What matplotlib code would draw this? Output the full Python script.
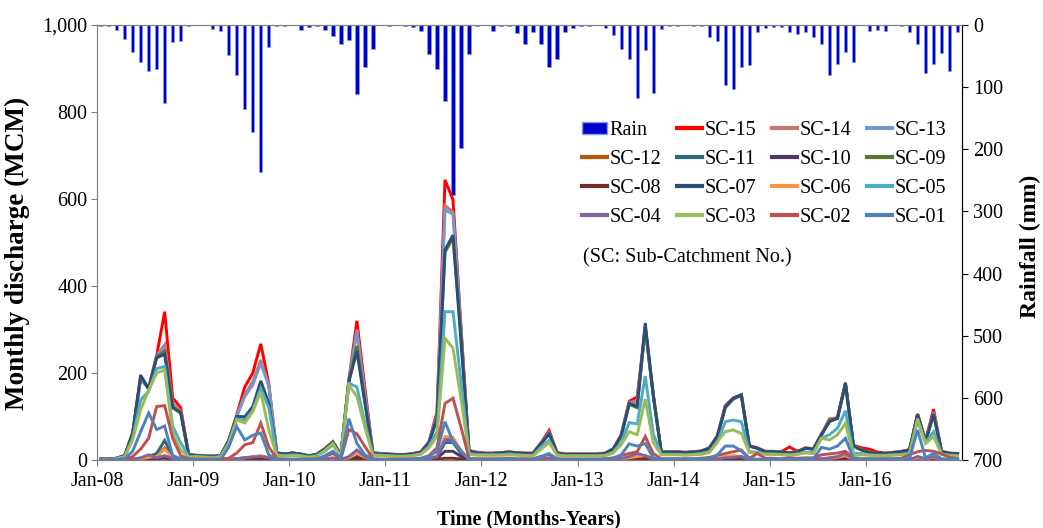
import numpy as np
import matplotlib
matplotlib.use("Agg")
import matplotlib.pyplot as plt
from matplotlib.ticker import FuncFormatter
from matplotlib.patches import Patch
from matplotlib.lines import Line2D

plt.rcParams['font.family'] = ['Liberation Serif', 'DejaVu Serif']

# monthly series, Jan-2008 .. Dec-2016 (one row per year)
rain = [2, 2, 8, 22, 43, 60, 74, 70, 126, 27, 25, 2,
        0, 0, 6, 10, 48, 80, 135, 172, 236, 36, 2, 2,
        0, 8, 4, 2, 8, 18, 31, 24, 111, 67, 38, 0,
        1, 0, 2, 4, 10, 46, 70, 122, 274, 198, 47, 1,
        0, 10, 2, 2, 13, 31, 11, 30, 67, 55, 11, 5,
        1, 1, 0, 5, 16, 39, 55, 117, 41, 109, 7, 1,
        1, 0, 1, 2, 20, 26, 97, 103, 67, 64, 11, 5,
        4, 4, 11, 14, 11, 20, 30, 81, 62, 43, 59, 0,
        10, 8, 10, 0, 1, 11, 30, 78, 63, 45, 74, 11]

sc15 = [2, 2, 4, 10, 60, 190, 165, 240, 341, 143, 120, 12,
        11, 10, 9, 10, 45, 104, 168, 200, 267, 175, 16, 14,
        16, 14, 10, 13, 26, 42, 13, 185, 320, 165, 17, 15,
        14, 13, 13, 15, 19, 42, 110, 644, 598, 305, 22, 18,
        16, 16, 17, 19, 17, 16, 16, 40, 68, 17, 14, 14,
        14, 14, 14, 16, 26, 58, 135, 145, 305, 150, 19, 19,
        19, 18, 19, 21, 28, 56, 125, 143, 150, 33, 28, 20,
        20, 19, 30, 20, 28, 26, 60, 90, 98, 175, 34, 28,
        25, 18, 16, 18, 20, 24, 105, 45, 117, 20, 16, 15]
sc14 = [2, 2, 4, 10, 60, 188, 165, 240, 265, 130, 112, 12,
        10, 10, 9, 10, 45, 102, 150, 180, 230, 172, 16, 14,
        16, 13, 10, 13, 25, 41, 12, 183, 300, 150, 16, 15,
        13, 12, 12, 14, 18, 41, 102, 585, 570, 297, 21, 17,
        15, 15, 16, 18, 16, 15, 15, 39, 64, 16, 13, 13,
        13, 13, 13, 15, 25, 57, 133, 135, 305, 150, 18, 18,
        18, 17, 18, 20, 27, 55, 124, 142, 150, 32, 27, 19,
        19, 18, 17, 19, 27, 26, 59, 95, 97, 176, 33, 24,
        18, 15, 15, 17, 19, 23, 105, 44, 110, 19, 15, 14]
sc13 = [2, 2, 4, 10, 58, 185, 165, 240, 257, 125, 110, 12,
        10, 10, 9, 10, 45, 100, 146, 172, 222, 170, 16, 14,
        16, 13, 10, 13, 25, 41, 12, 182, 295, 150, 16, 15,
        13, 12, 12, 14, 18, 41, 100, 575, 565, 295, 21, 17,
        15, 15, 16, 18, 16, 15, 15, 38, 62, 16, 13, 13,
        13, 13, 13, 15, 25, 56, 132, 128, 300, 150, 18, 18,
        18, 17, 18, 20, 27, 54, 123, 142, 150, 32, 27, 19,
        19, 18, 16, 19, 27, 25, 58, 90, 96, 175, 32, 23,
        17, 15, 15, 17, 19, 23, 104, 44, 108, 19, 15, 14]
sc12 = [0, 0, 0, 0, 1, 2, 5, 8, 28, 5, 1, 0,
        0, 0, 0, 0, 1, 2, 4, 6, 8, 5, 1, 0,
        0, 0, 0, 0, 1, 2, 1, 4, 12, 5, 1, 0,
        0, 0, 0, 0, 1, 2, 6, 48, 46, 18, 1, 0,
        0, 0, 0, 0, 0, 0, 0, 1, 3, 1, 0, 0,
        0, 0, 0, 0, 1, 2, 4, 6, 8, 2, 0, 0,
        0, 0, 0, 0, 1, 2, 6, 8, 7, 1, 1, 0,
        0, 0, 0, 0, 1, 1, 2, 3, 5, 8, 1, 0,
        0, 0, 0, 0, 0, 1, 4, 2, 5, 1, 0, 0]
sc11 = [0, 0, 0, 0, 1, 3, 8, 15, 45, 8, 2, 0,
        0, 0, 0, 0, 1, 3, 5, 6, 8, 5, 1, 0,
        0, 0, 0, 0, 1, 2, 1, 6, 12, 5, 1, 0,
        0, 0, 0, 0, 1, 2, 6, 40, 40, 15, 1, 0,
        0, 0, 0, 0, 0, 0, 0, 2, 3, 1, 0, 0,
        0, 0, 0, 0, 1, 2, 5, 6, 8, 3, 0, 0,
        0, 0, 0, 0, 1, 2, 6, 7, 7, 1, 1, 0,
        0, 0, 0, 0, 1, 1, 3, 4, 5, 8, 1, 0,
        0, 0, 0, 0, 0, 1, 4, 2, 5, 1, 0, 0]
sc10 = [0, 0, 0, 0, 1, 2, 4, 5, 8, 2, 1, 0,
        0, 0, 0, 0, 1, 2, 3, 4, 5, 3, 1, 0,
        0, 0, 0, 0, 1, 1, 0, 3, 8, 3, 0, 0,
        0, 0, 0, 0, 0, 1, 4, 20, 20, 8, 1, 0,
        0, 0, 0, 0, 0, 0, 0, 1, 2, 0, 0, 0,
        0, 0, 0, 0, 0, 1, 3, 5, 5, 2, 0, 0,
        0, 0, 0, 0, 0, 1, 3, 4, 4, 1, 0, 0,
        0, 0, 0, 0, 0, 1, 2, 3, 4, 6, 1, 0,
        0, 0, 0, 0, 0, 1, 3, 1, 3, 1, 0, 0]
sc09 = [2, 2, 4, 10, 62, 193, 163, 238, 250, 122, 110, 12,
        10, 9, 8, 10, 45, 100, 99, 120, 172, 128, 16, 14,
        16, 13, 9, 13, 26, 42, 12, 182, 262, 135, 15, 14,
        13, 12, 12, 14, 18, 40, 95, 478, 510, 290, 20, 16,
        15, 15, 16, 18, 16, 15, 15, 38, 60, 16, 13, 13,
        13, 13, 13, 15, 25, 55, 128, 120, 305, 148, 18, 18,
        18, 17, 18, 20, 27, 53, 120, 140, 148, 32, 27, 19,
        19, 18, 16, 19, 27, 25, 57, 92, 95, 175, 32, 23,
        17, 15, 15, 17, 19, 23, 104, 42, 104, 19, 15, 14]
sc08 = [0, 0, 0, 0, 0, 1, 2, 3, 4, 1, 0, 0,
        0, 0, 0, 0, 0, 1, 2, 2, 3, 1, 0, 0,
        0, 0, 0, 0, 0, 1, 0, 2, 3, 1, 0, 0,
        0, 0, 0, 0, 0, 1, 2, 4, 4, 2, 0, 0,
        0, 0, 0, 0, 0, 0, 0, 0, 1, 0, 0, 0,
        0, 0, 0, 0, 0, 1, 2, 2, 3, 1, 0, 0,
        0, 0, 0, 0, 0, 1, 2, 3, 3, 0, 0, 0,
        0, 0, 0, 0, 0, 0, 1, 2, 2, 3, 0, 0,
        0, 0, 0, 0, 0, 0, 2, 1, 3, 0, 0, 0]
sc07 = [2, 2, 4, 10, 62, 195, 163, 235, 243, 120, 108, 12,
        10, 9, 8, 10, 45, 100, 99, 123, 182, 130, 16, 14,
        16, 13, 9, 13, 25, 40, 12, 180, 250, 130, 15, 14,
        13, 12, 12, 14, 18, 40, 95, 483, 517, 270, 20, 16,
        15, 15, 16, 18, 16, 15, 15, 38, 60, 16, 13, 13,
        13, 13, 13, 15, 25, 55, 130, 123, 315, 150, 18, 18,
        18, 17, 18, 20, 27, 54, 123, 142, 150, 32, 27, 19,
        19, 18, 16, 19, 27, 25, 58, 88, 96, 178, 32, 23,
        17, 15, 15, 17, 19, 23, 106, 42, 106, 19, 15, 14]
sc06 = [0, 0, 0, 0, 1, 3, 6, 8, 25, 4, 1, 0,
        0, 0, 0, 0, 1, 3, 5, 8, 10, 6, 1, 0,
        0, 0, 0, 0, 2, 3, 1, 5, 15, 6, 1, 0,
        0, 0, 0, 0, 1, 3, 8, 54, 52, 22, 1, 0,
        0, 0, 0, 0, 0, 0, 0, 2, 4, 1, 0, 0,
        0, 0, 0, 0, 1, 2, 5, 8, 10, 3, 0, 0,
        0, 0, 0, 0, 1, 2, 8, 10, 8, 1, 1, 0,
        0, 0, 0, 0, 1, 1, 3, 4, 6, 10, 1, 0,
        0, 0, 0, 0, 0, 1, 5, 3, 6, 1, 0, 0]
sc05 = [1, 1, 3, 8, 50, 138, 158, 210, 215, 77, 40, 8,
        8, 7, 6, 8, 40, 95, 90, 115, 165, 120, 12, 10,
        12, 10, 7, 10, 20, 35, 9, 176, 168, 85, 12, 11,
        10, 9, 9, 11, 14, 32, 65, 341, 341, 180, 15, 12,
        12, 12, 12, 14, 12, 11, 11, 30, 45, 12, 10, 10,
        10, 10, 10, 11, 18, 40, 86, 83, 193, 60, 13, 13,
        13, 12, 13, 15, 19, 40, 88, 92, 88, 19, 18, 14,
        14, 13, 12, 14, 18, 17, 50, 58, 73, 113, 15, 15,
        12, 11, 11, 12, 13, 16, 90, 40, 65, 14, 11, 10]
sc04 = [0, 0, 0, 0, 2, 5, 12, 5, 10, 3, 1, 0,
        0, 0, 0, 0, 1, 3, 5, 7, 8, 5, 1, 0,
        0, 0, 0, 0, 2, 5, 1, 8, 23, 8, 1, 0,
        0, 0, 0, 0, 1, 3, 8, 46, 45, 20, 1, 0,
        0, 0, 0, 0, 0, 0, 0, 2, 4, 1, 0, 0,
        0, 0, 0, 0, 1, 3, 8, 15, 10, 3, 0, 0,
        0, 0, 0, 0, 1, 2, 5, 6, 8, 1, 1, 0,
        0, 0, 0, 0, 1, 1, 3, 5, 8, 15, 1, 0,
        0, 0, 0, 0, 0, 1, 8, 3, 8, 1, 0, 0]
sc03 = [1, 1, 3, 7, 46, 115, 161, 200, 207, 62, 23, 6,
        7, 6, 5, 7, 38, 92, 85, 111, 157, 69, 10, 9,
        10, 9, 6, 9, 22, 38, 8, 172, 146, 75, 11, 10,
        9, 8, 8, 10, 13, 28, 55, 280, 257, 140, 13, 11,
        11, 11, 11, 12, 11, 10, 10, 25, 40, 11, 9, 9,
        9, 9, 9, 10, 16, 35, 65, 58, 140, 40, 12, 12,
        12, 11, 12, 13, 17, 42, 65, 69, 61, 17, 16, 13,
        13, 12, 11, 13, 16, 15, 50, 46, 58, 84, 10, 12,
        11, 10, 10, 11, 12, 14, 95, 38, 54, 13, 10, 9]
sc02 = [0, 0, 1, 2, 8, 25, 50, 123, 125, 50, 10, 3,
        2, 2, 2, 2, 4, 16, 35, 40, 85, 30, 3, 2,
        2, 2, 2, 3, 8, 15, 3, 70, 60, 31, 3, 2,
        2, 2, 2, 3, 4, 10, 28, 130, 142, 75, 4, 3,
        3, 3, 3, 4, 3, 3, 3, 8, 12, 3, 2, 2,
        2, 2, 2, 3, 5, 10, 15, 19, 54, 15, 3, 3,
        3, 3, 3, 4, 6, 10, 15, 19, 23, 4, 15, 4,
        4, 3, 5, 4, 5, 5, 12, 14, 16, 20, 4, 3,
        3, 3, 3, 3, 4, 12, 19, 22, 20, 14, 6, 3]
sc01 = [0, 0, 1, 3, 20, 65, 108, 70, 78, 10, 3, 1,
        1, 1, 1, 1, 30, 77, 46, 57, 62, 12, 2, 1,
        1, 1, 1, 2, 10, 20, 4, 95, 38, 12, 2, 1,
        1, 1, 1, 2, 3, 8, 20, 88, 42, 20, 2, 1,
        1, 1, 1, 2, 1, 1, 1, 8, 15, 2, 1, 1,
        1, 1, 1, 2, 4, 12, 37, 32, 38, 5, 2, 2,
        2, 2, 2, 2, 3, 12, 32, 32, 21, 3, 2, 2,
        2, 2, 2, 2, 3, 3, 29, 25, 32, 50, 3, 2,
        2, 2, 2, 2, 2, 3, 69, 5, 15, 3, 2, 2]

names = ['SC-15', 'SC-14', 'SC-13', 'SC-12', 'SC-11', 'SC-10', 'SC-09', 'SC-08',
         'SC-07', 'SC-06', 'SC-05', 'SC-04', 'SC-03', 'SC-02', 'SC-01']
series = [sc15, sc14, sc13, sc12, sc11, sc10, sc09, sc08,
          sc07, sc06, sc05, sc04, sc03, sc02, sc01]
colors = ['#ff0000', '#cd7371', '#729aca', '#b65708', '#276a7c', '#4d3b62', '#5f7530', '#772c2a',
          '#2c4d75', '#f79646', '#4bacc6', '#8064a2', '#9bbb59', '#c0504d', '#4f81bd']
tick_labels = ['Jan-08', 'Jan-09', 'Jan-10', 'Jan-11', 'Jan-12',
               'Jan-13', 'Jan-14', 'Jan-15', 'Jan-16']

# months since Jan-2008; values plotted mid-month
x = np.arange(len(rain)) + 0.45

fig = plt.figure(figsize=(10.43, 5.28), dpi=100)
ax = fig.add_axes([97/1043, 1-460/528, 865/1043, 435/528])
ax2 = ax.twinx()

ax2.bar(x, rain, width=0.42, color='#0000cc', edgecolor='#7fa3e0', linewidth=0.4)
ax2.set_ylim(700, 0)
ax2.set_yticks(range(0, 701, 100))

for vals, nm, c in zip(series, names, colors):
    ax.plot(x, vals, color=c, lw=2.1, label=nm, solid_joinstyle='miter')

# lines above the rain bars
ax.set_zorder(ax2.get_zorder() + 1)
ax.patch.set_visible(False)

ax.set_xlim(0, 108)
ax.set_ylim(0, 1000)
ax.set_yticks(range(0, 1001, 200))
ax.yaxis.set_major_formatter(FuncFormatter(lambda v, p: f'{int(v):,}'))
ax.set_xticks(range(0, 97, 12))
ax.set_xticklabels(tick_labels)

for a in (ax, ax2):
    a.tick_params(labelsize=14.5, length=4, direction='out')
ax.tick_params(axis='x', colors='#808080', labelcolor='black', pad=5)
ax.tick_params(axis='y', colors='#808080', labelcolor='black', pad=3)
ax2.tick_params(axis='y', colors='black', pad=4)
for a in (ax, ax2):
    a.spines['left'].set_color('#808080')
    a.spines['bottom'].set_color('#808080')
    a.spines['top'].set_color('#808080')
    a.spines['right'].set_color('black')

ax.set_ylabel('Monthly discharge (MCM)', fontsize=19.5, fontweight='bold')
ax.yaxis.set_label_coords(-0.077, 0.474)
ax2.set_ylabel('Rainfall (mm)', fontsize=17, fontweight='bold')
ax2.yaxis.set_label_coords(1.067, 0.49)
fig.text(529/1043, 1-519/528, 'Time (Months-Years)', fontsize=14.5, fontweight='bold',
         ha='center', va='center')

# legend, filled row by row like the original
handles = [Patch(facecolor='#0000cc', edgecolor='#7fa3e0', label='Rain')]
handles += [Line2D([], [], color=c, lw=3, label=nm) for nm, c in zip(names, colors)]
order = [handles[4*r + c] for c in range(4) for r in range(4)]
ax.legend(handles=order, ncol=4, loc='upper left', bbox_to_anchor=(582/1043, 1-121/528),
          bbox_transform=fig.transFigure, frameon=False, fontsize=14.5,
          handlelength=1.25, handleheight=0.6, handletextpad=0.12, columnspacing=0.78,
          labelspacing=0.5, borderpad=0, borderaxespad=0)
fig.text(583/1043, 1-258/528, '(SC: Sub-Catchment No.)', fontsize=14.5, ha='left', va='center')

fig.savefig('out.png', dpi=100)
